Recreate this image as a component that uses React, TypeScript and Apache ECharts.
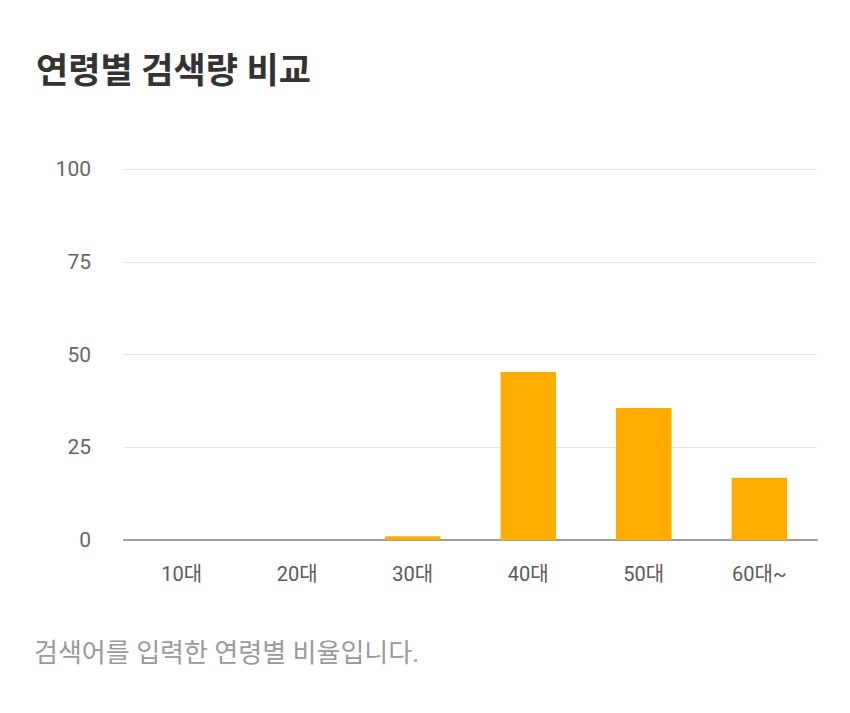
import React, { useEffect, useRef } from "react";
import * as echarts from "echarts";

const categories = ["10대", "20대", "30대", "40대", "50대", "60대~"];
const values = [0, 0, 1, 45.3, 35.6, 16.8];
const yTicks = [0, 25, 50, 75, 100];
const titleText = "연령별 검색량 비교";
const footerText = "검색어를 입력한 연령별 비율입니다.";

const FONT = "Roboto, 'Noto Sans CJK KR', 'Noto Sans', sans-serif";

export default function App() {
  const ref = useRef<HTMLDivElement>(null);
  useEffect(() => {
    if (!ref.current) return;
    const chart = echarts.init(ref.current, undefined, { renderer: "svg" });
    chart.setOption({
      animation: false,
      backgroundColor: "#ffffff",
      textStyle: { fontFamily: FONT },
      title: {
        text: titleText,
        left: 31,
        top: 49,
        textStyle: { fontSize: 35, fontWeight: "bold", color: "#333333", fontFamily: FONT },
      },
      grid: { left: 124, right: 33, top: 169, bottom: 173, containLabel: false },
      xAxis: {
        type: "category",
        data: categories,
        axisLine: { lineStyle: { color: "#9e9e9e", width: 2 } },
        axisTick: { show: false },
        axisLabel: { color: "#5a5a5a", fontSize: 20, margin: 24, fontFamily: FONT },
      },
      yAxis: {
        type: "value",
        min: yTicks[0],
        max: yTicks[yTicks.length - 1],
        interval: 25,
        axisLine: { show: false },
        axisTick: { show: false },
        splitLine: { lineStyle: { color: "#e4e4e4", width: 1 } },
        axisLabel: { color: "#666666", fontSize: 21, margin: 33, fontFamily: FONT },
      },
      series: [
        {
          type: "bar",
          data: values,
          barWidth: "48%",
          itemStyle: { color: "#ffab00" },
        },
      ],
      graphic: [
        {
          type: "text",
          left: 34,
          top: 640,
          style: { text: footerText, fill: "#9a9a9a", fontSize: 26, fontFamily: FONT },
        },
      ],
    });
    return () => chart.dispose();
  }, []);
  return (
    <div
      ref={ref}
      style={{ position: "fixed", left: 0, top: 0, width: 850, height: 713 }}
    />
  );
}
